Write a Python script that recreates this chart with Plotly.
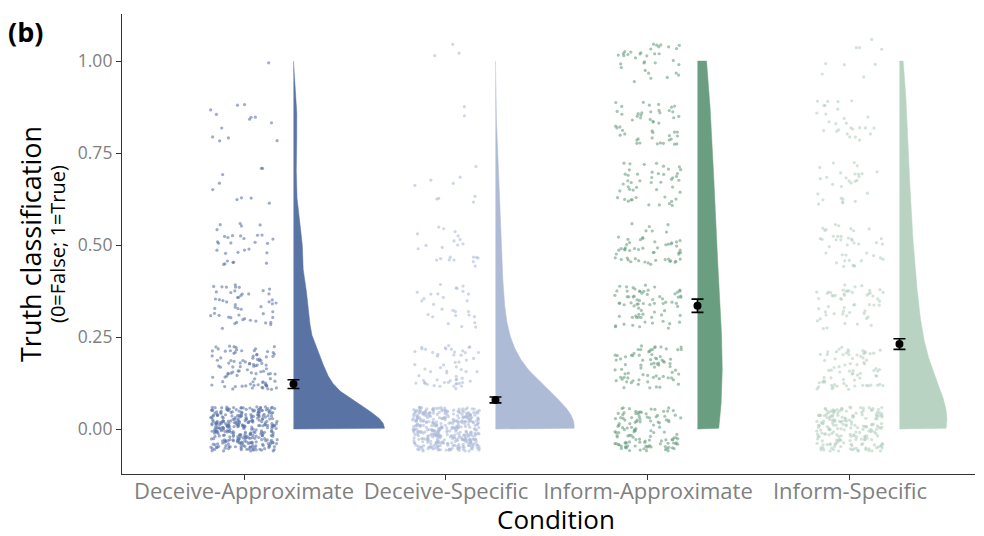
import numpy as np
import plotly.graph_objects as go

# ---------------- data ----------------
conditions = ["Deceive-Approximate", "Deceive-Specific", "Inform-Approximate", "Inform-Specific"]
levels = [0.0, 0.167, 0.333, 0.5, 0.667, 0.833, 1.0]
# number of participants at each truth-classification level
counts_deceive_approx = [340, 95, 50, 30, 9, 13, 1]
counts_deceive_spec = [397, 58, 27, 22, 9, 2, 3]
counts_inform_approx = [122, 76, 72, 56, 48, 50, 34]
counts_inform_spec = [201, 75, 55, 40, 28, 27, 9]
means = [0.122, 0.079, 0.335, 0.231]
errors = [0.012, 0.008, 0.018, 0.0145]
yticks = [0.0, 0.25, 0.5, 0.75, 1.0]
ytick_labels = ["0.00", "0.25", "0.50", "0.75", "1.00"]

# ---------------- styling / statistical parameters ----------------
counts_all = [counts_deceive_approx, counts_deceive_spec, counts_inform_approx, counts_inform_spec]
bandwidths = [0.07, 0.10, 0.20, 0.11]
point_colors = ["#5b74a8", "#aebbd8", "#6a9e80", "#b5d0bf"]
violin_colors = ["#5a73a5", "#aebbd6", "#6a9e80", "#b9d3c3"]
JIT_W = 0.165      # horizontal jitter half-width (x units)
JIT_H = 0.06       # vertical jitter half-height (y units)
NUDGE = 0.245      # violin / mean offset from category centre
HALF_WIDTH = 0.45  # widest violin half-width (x units)
FONT = "Open Sans"

fig = go.Figure()


def hash01(i, salt):
    # deterministic scatter for display jitter
    return np.modf(np.abs(np.sin(i * 12.9898 + salt * 78.233) * 43758.5453))[0]


grid = np.linspace(0, 1, 512)
dens_all = []
for c, counts in enumerate(counts_all):
    vals = np.repeat(levels, counts)
    h = bandwidths[c]
    d = np.exp(-0.5 * ((grid[:, None] - vals[None, :]) / h) ** 2).sum(axis=1)
    d /= (len(vals) * h * np.sqrt(2 * np.pi))
    dens_all.append(d)
global_max = max(d.max() for d in dens_all)

for c, counts in enumerate(counts_all):
    xc = c + 1
    vals = np.repeat(levels, counts)
    idx = np.arange(len(vals)) + 1.0
    u = hash01(idx, 2 * c + 1)
    v = hash01(idx, 2 * c + 2)
    px = xc + (u - 0.5) * 2 * JIT_W
    py = vals + (v - 0.5) * 2 * JIT_H
    fig.add_trace(go.Scatter(
        x=px, y=py, mode="markers",
        marker=dict(size=3.2, color=point_colors[c], opacity=0.6, line=dict(width=0)),
        hoverinfo="skip", showlegend=False))

    w = dens_all[c] / global_max * HALF_WIDTH
    base = xc + NUDGE
    vx = np.concatenate([[base], base + w, [base]])
    vy = np.concatenate([[grid[0]], grid, [grid[-1]]])
    fig.add_trace(go.Scatter(
        x=vx, y=vy, mode="lines", fill="toself",
        fillcolor=violin_colors[c], line=dict(color=violin_colors[c], width=0.5),
        hoverinfo="skip", showlegend=False))

fig.add_trace(go.Scatter(
    x=[i + 1 + NUDGE for i in range(len(conditions))], y=means, mode="markers",
    marker=dict(size=8, color="black"),
    error_y=dict(type="data", array=errors, visible=True, color="black", thickness=1.6, width=6),
    hoverinfo="skip", showlegend=False))

L, R, T, B = 122, 9, 14, 62
PW, PH = 984 - L - R, 536 - T - B


def px_x(x):
    return (x - L) / PW


def px_y(y):
    return (536 - B - y) / PH


fig.update_layout(
    width=984, height=536,
    margin=dict(l=L, r=R, t=T, b=B),
    paper_bgcolor="white", plot_bgcolor="white",
    font=dict(family=FONT, color="black"),
    xaxis=dict(
        range=[0.396, 4.619], tickvals=[1, 2, 3, 4], ticktext=conditions, automargin=False,
        showgrid=False, zeroline=False, showline=True, linecolor="#333333", linewidth=1.2,
        ticks="outside", ticklen=5, tickcolor="#333333", tickwidth=1.2, ticklabelstandoff=-8,
        tickfont=dict(family=FONT, size=22, color="#808080"),
    ),
    yaxis=dict(
        range=[-0.1223, 1.128], tickvals=yticks, ticktext=ytick_labels, automargin=False,
        showgrid=False, zeroline=False, showline=True, linecolor="#333333", linewidth=1.2,
        ticks="outside", ticklen=5, tickcolor="#333333", tickwidth=1.2,
        tickfont=dict(family=FONT, size=17.5, color="#808080"),
    ),
    annotations=[
        dict(text="<b>(b)</b>", xref="paper", yref="paper", x=px_x(6), y=px_y(31),
             xanchor="left", yanchor="middle", showarrow=False, font=dict(family=FONT, size=27, color="black")),
        dict(text="Truth classification", xref="paper", yref="paper", x=px_x(30), y=px_y(244),
             xanchor="center", yanchor="middle", textangle=-90, showarrow=False,
             font=dict(family=FONT, size=27, color="black")),
        dict(text="(0=False; 1=True)", xref="paper", yref="paper", x=px_x(57), y=px_y(244),
             xanchor="center", yanchor="middle", textangle=-90, showarrow=False,
             font=dict(family=FONT, size=20, color="black")),
        dict(text="Condition", xref="paper", yref="paper", x=px_x(556), y=px_y(519),
             xanchor="center", yanchor="middle", showarrow=False, height=26, valign="middle",
             font=dict(family=FONT, size=26, color="black")),
    ],
)

fig.write_html("out.html", config={"displayModeBar": False},
               post_script="document.body.style.margin='0';document.body.style.overflow='hidden';")
